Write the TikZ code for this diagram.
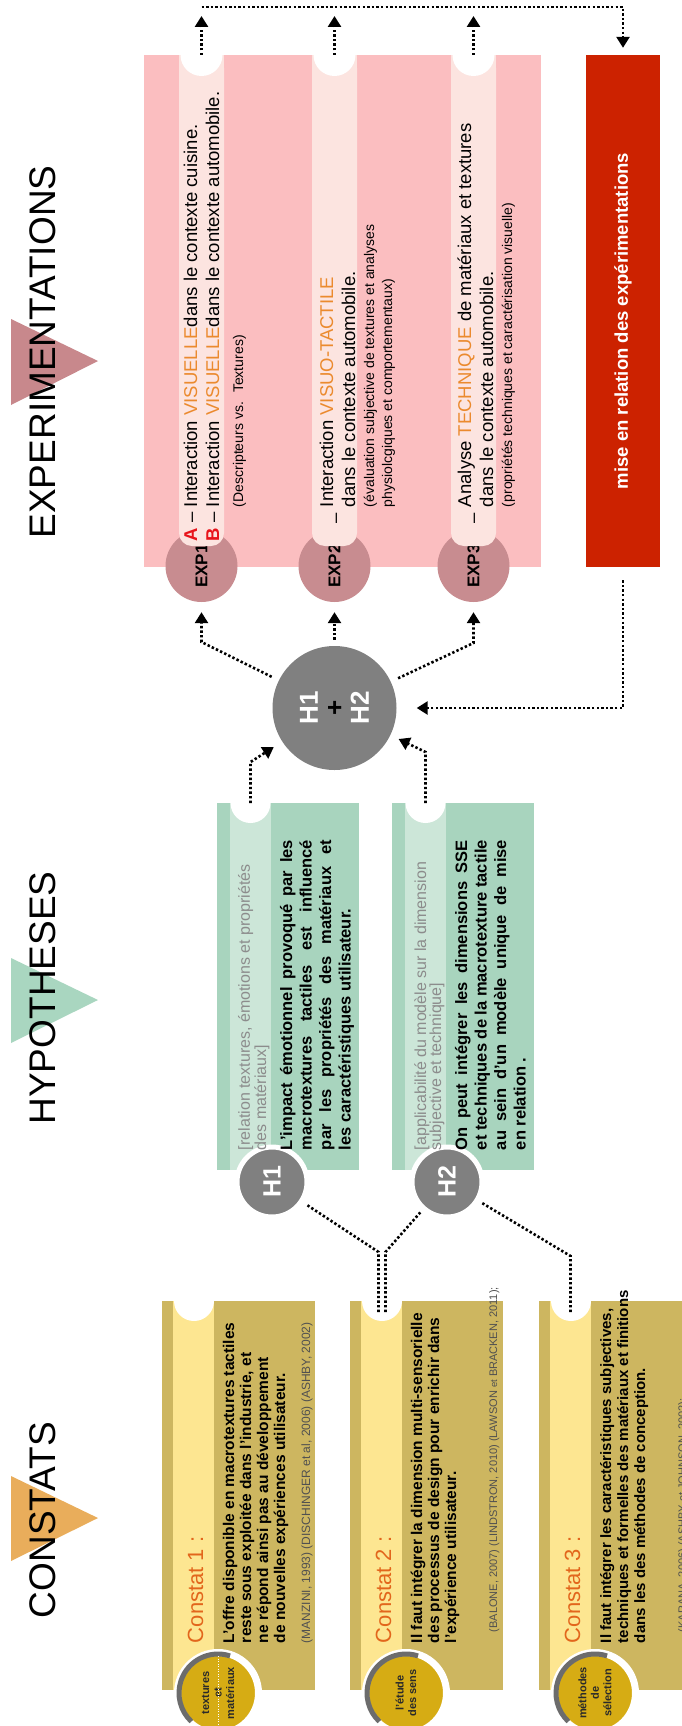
\documentclass[tikz,border=0pt]{standalone}
\usepackage{fontspec}
\setmainfont{Liberation Sans}
\usetikzlibrary{arrows.meta}
\definecolor{goldbox}{HTML}{CDB660}
\definecolor{goldband}{HTML}{FDE691}
\definecolor{badge}{HTML}{D6AC14}
\definecolor{badgetxt}{HTML}{2A2A2A}
\definecolor{greenbox}{HTML}{A8D4BE}
\definecolor{greenband}{HTML}{CCE6D8}
\definecolor{pinkbox}{HTML}{FBBEC0}
\definecolor{pinkband}{HTML}{FCE4E0}
\definecolor{expc}{HTML}{C88C90}
\definecolor{redbox}{HTML}{CC2200}
\definecolor{hgray}{HTML}{808080}
\definecolor{ttlorange}{HTML}{E2661C}
\definecolor{kworange}{HTML}{EB8A2E}
\definecolor{abred}{HTML}{E8141B}
\definecolor{citegray}{HTML}{505050}
\definecolor{brgray}{HTML}{8C8C8C}
\definecolor{triorange}{HTML}{E9AD5B}
\definecolor{trigreen}{HTML}{A9D6C0}
\definecolor{trirose}{HTML}{C8888C}
\newcommand{\myfs}[2]{\fontsize{#1pt}{#2pt}\selectfont}
\begin{document}
\begin{tikzpicture}[x=1pt,y=-1pt,
  rt/.style={rotate=90, inner sep=0pt, outer sep=0pt, anchor=base west, align=left},
  dotline/.style={line width=2.6pt, dash pattern=on 2.4pt off 2.2pt},
  dotarrow/.style={dotline, -{Triangle[length=11pt,width=13pt]}},
  heading/.style={rotate=90, inner sep=0pt, anchor=base, font=\myfs{37}{40}},
  badgec/.style={circle, fill=badge, draw=white, line width=7pt, minimum size=81pt, inner sep=0pt, rotate=90, align=center, text=badgetxt, font=\bfseries\myfs{11}{12.5}},
  hc/.style={circle, fill=hgray, draw=white, line width=5pt, minimum size=70pt, inner sep=0pt, rotate=90, text=white, font=\bfseries\myfs{25}{25}},
  ec/.style={circle, fill=expc, minimum size=72pt, inner sep=0pt, rotate=90, font=\bfseries\myfs{17}{17}},
  body/.style={rt, font=\bfseries\myfs{15.5}{17}},
  cite/.style={rt, text=citegray, font=\myfs{12}{14}},
  ctitle/.style={rt, text=ttlorange, font=\myfs{22}{26}},
  brk/.style={rt, text=brgray, font=\myfs{16}{15}},
  hbody/.style={rt, font=\bfseries\myfs{16.5}{19.5}},
  expt/.style={rt, font=\myfs{18.5}{22}},
  exps/.style={rt, font=\myfs{14}{18}},
]
\useasboundingbox (0,0) rectangle (681,1726);

% ---------- headings ----------
\fill[triorange] (11,1476) -- (98,1518) -- (11,1561) -- cycle;
\node[heading] (hcon) at (55,1520) {CONSTATS};
\fill[trigreen] (11,958) -- (98,1000) -- (11,1043) -- cycle;
\node[heading] (hhyp) at (55,998) {HYPOTHESES};
\fill[trirose] (11,319) -- (98,361) -- (11,405) -- cycle;
\node[heading] (hexp) at (55,352) {EXPERIMENTATIONS};

% ---------- constat boxes ----------
\foreach \L in {162,350,539}{
  \fill[goldbox] (\L,1301) rectangle (\L+153,1690);
  \fill[goldband] (\L+11,1301) rectangle (\L+52,1690);
  \fill[white] (\L+32,1301) circle (20pt);
}
\node[badgec] (b1) at (218,1693) {textures\\et\\matériaux};
\draw[gray!85!black, line width=5pt] (b1.center) ++(72:39pt) arc[start angle=72, end angle=227, radius=39pt];
\draw[white, line width=1pt, dash pattern=on 1pt off 1.5pt] (218,1656) -- (218,1726);
\node[badgec] (b2) at (406,1693) {l'étude\\des sens};
\draw[gray!85!black, line width=5pt] (b2.center) ++(72:39pt) arc[start angle=72, end angle=227, radius=39pt];
\node[badgec] (b3) at (595,1693) {méthodes\\de\\sélection};
\draw[gray!85!black, line width=5pt] (b3.center) ++(72:39pt) arc[start angle=72, end angle=227, radius=39pt];

% multi-line nodes: base = last line's baseline
\node[ctitle] (ct1) at (203,1643) {Constat 1 :};
\node[body] (cb1) at (285,1643) {L'offre disponible en macrotextures tactiles\\reste sous exploitée dans l'industrie, et\\ne répond ainsi pas au développement\\de nouvelles expériences utilisateur.};
\node[cite] (cc1) at (310,1643) {(MANZINI, 1993) (DISCHINGER et al, 2006) (ASHBY, 2002)};

\node[ctitle] (ct2) at (391,1643) {Constat 2 :};
\node[body] (cb2) at (456,1643) {Il faut intégrer la dimension multi-sensorielle\\des processus de design pour enrichir dans\\l'expérience utilisateur.};
\node[cite, font=\myfs{11}{13}] (cc2) at (497,1632) {(BALONE, 2007) (LINDSTRON, 2010) (LAWSON {\myfs{9.5}{12}et} BRACKEN, 2011);};

\node[ctitle] (ct3) at (580,1643) {Constat 3 :};
\node[body, font=\bfseries\myfs{15}{17}] (cb3) at (645,1643) {Il faut intégrer les caractéristiques subjectives,\\techniques et formelles des matériaux et finitions\\dans les des méthodes de conception.};
\node[cite, font=\myfs{11}{13}] (cc3) at (686,1632) {(KARANA, 2006) (ASHBY et JOHNSON, 2002);};

% ---------- hypothesis boxes ----------
\fill[greenbox] (217,803) rectangle (359,1170);
\fill[greenband] (230,803) rectangle (271,1170);
\fill[white] (250.5,803) circle (20pt);
\fill[greenbox] (392,803) rectangle (534,1170);
\fill[greenband] (405,803) rectangle (446,1170);
\fill[white] (425.5,803) circle (20pt);

\node[hc] (h1) at (272,1182) {H1};
\node[hc] (h2) at (447,1182) {H2};

\node[brk] (hb1) at (266,1150) {[relation textures, émotions et propriétés\\des matériaux]};
\node[hbody] (hx1) at (350.5,1150) {\makebox[310pt][s]{L'impact émotionnel provoqué par les}\\\makebox[310pt][s]{macrotextures tactiles est influencé}\\\makebox[310pt][s]{par les propriétés des matériaux et}\\les caractéristiques utilisateur.};
\node[brk] (hb2) at (441,1150) {[applicabilité du modèle sur la dimension\\subjective et technique]};
\node[hbody] (hx2) at (525.5,1150) {\makebox[310pt][s]{On peut intégrer les dimensions SSE}\\\makebox[310pt][s]{et techniques de la macrotexture tactile}\\\makebox[310pt][s]{au sein d'un modèle unique de mise}\\en relation .};

% ---------- experimentations ----------
\fill[pinkbox] (144,55) rectangle (541,567);
\node[ec] (e1) at (201.5,566) {EXP1};
\node[ec] (e2) at (334.5,566) {EXP2};
\node[ec] (e3) at (473.5,566) {EXP3};
\foreach \S in {179,312,451}{
  \fill[pinkband, rounded corners=13pt] (\S,55) rectangle (\S+45,546);
  \fill[pinkband] (\S,55) rectangle (\S+45,500);
  \fill[white] (\S+22.5,55) circle (21pt);
}
\node[expt] (x1) at (219,541) {{\bfseries\color{abred}A} – Interaction {\color{kworange}VISUELLE}dans le contexte cuisine.\\{\bfseries\color{abred}B} – Interaction {\color{kworange}VISUELLE}dans le contexte automobile.};
\node[exps] (s1) at (243,507) {(Descripteurs vs.~ Textures)};

\node[expt] (x2) at (355,507) {Interaction {\color{kworange}VISUO-TACTILE}\\dans le contexte automobile.};
\node[expt] (d2) at (341,523) {–};
\node[exps] (s2) at (392,507) {(évaluation subjective de textures et analyses\\physiolcgiques et comportementaux)};

\node[expt] (x3) at (493,507) {Analyse {\color{kworange}TECHNIQUE} de matériaux et textures\\dans le contexte automobile.};
\node[expt] (d3) at (479,523) {–};
\node[exps] (s3) at (512,507) {(propriétés techniques et caractérisation visuelle)};

\node[fill=redbox, minimum width=74pt, minimum height=512pt, inner sep=0pt] (red) at (623,311) {};
\node[rotate=90, inner sep=0pt, text=white, font=\bfseries\myfs{18.5}{20}] (redtxt) at (623,321) {mise en relation des expérimentations};

\node[circle, fill=hgray, minimum size=124pt, inner sep=0pt, rotate=90, align=center, font=\bfseries\myfs{26}{25.5}] (h12) at (334.5,708) {\textcolor{white}{H1}\\+\\\textcolor{white}{H2}};

% ---------- connectors ----------
\coordinate (u1s) at (201.5,55); \coordinate (u1e) at (201.5,16);
\coordinate (u2s) at (334.5,55); \coordinate (u2e) at (334.5,16);
\coordinate (u3s) at (473.5,55); \coordinate (u3e) at (473.5,16);
\draw[dotarrow] (u1s) -- (u1e);
\draw[dotarrow] (u2s) -- (u2e);
\draw[dotarrow] (u3s) -- (u3e);
\coordinate (bus1) at (201.5,7); \coordinate (bus2) at (623,7);
\draw[dotarrow, shorten >=7pt] (bus1) -- (bus2) -- (red.north);

\draw[dotarrow, shorten <=13pt, shorten >=20pt] (red.south) |- (h12);

\coordinate (k1) at (201.5,642); \coordinate (k3) at (473.5,643);
\draw[dotarrow, shorten <=8pt, shorten >=10pt] (h12) -- (k1) -- (e1);
\draw[dotarrow, shorten <=6pt, shorten >=10pt] (h12) -- (e2);
\draw[dotarrow, shorten <=8pt, shorten >=10pt] (h12) -- (k3) -- (e3);

\coordinate (hn1) at (250.5,803); \coordinate (hk1) at (250.5,762);
\draw[dotarrow, shorten >=10pt] (hn1) -- (hk1) -- (h12);
\coordinate (hn2) at (425.5,803); \coordinate (hk2) at (425.5,752);
\draw[dotarrow, shorten >=9pt] (hn2) -- (hk2) -- (h12);

\coordinate (c2a) at (378.5,1312); \coordinate (j2a) at (378.5,1252);
\draw[dotline, shorten >=3pt] (c2a) -- (j2a) -- (h1);
\coordinate (c2b) at (385.5,1312); \coordinate (j2b) at (385.5,1252);
\draw[dotline, shorten >=3pt] (c2b) -- (j2b) -- (h2);
\coordinate (c3) at (570.5,1312); \coordinate (j3) at (570.5,1256);
\draw[dotline, shorten >=3pt] (c3) -- (j3) -- (h2);
\end{tikzpicture}
\end{document}
